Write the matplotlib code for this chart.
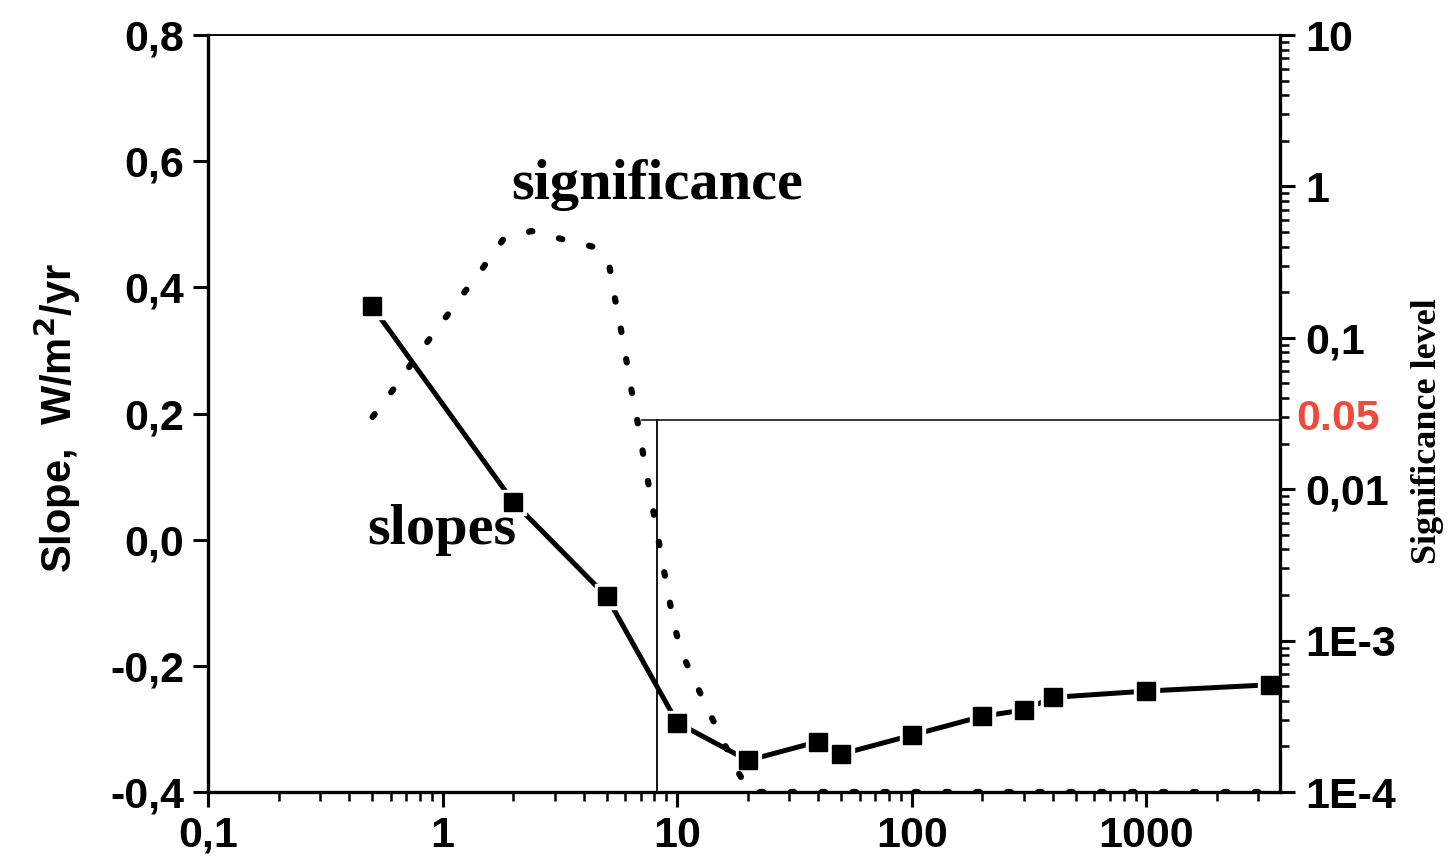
import matplotlib
matplotlib.use("Agg")
import matplotlib.pyplot as plt
from matplotlib.ticker import LogLocator, NullFormatter, FixedLocator

# ---- data ----
slope_x = [0.5, 2, 5, 10, 20, 40, 50, 100, 200, 300, 400, 1000, 3370]
slope_y = [0.37, 0.06, -0.09, -0.29, -0.35, -0.32, -0.34, -0.31, -0.28, -0.27, -0.25, -0.24, -0.23]

sig_x = [0.503, 0.629, 0.772, 0.961, 1.19, 1.48, 1.82, 2.39, 3.24, 4.36, 5.15, 5.41,
         5.73, 6.03, 6.33, 6.70, 7.04, 7.41, 7.81, 8.23, 8.65, 9.14, 9.63, 10.4,
         11.9, 13.6, 15.6, 17.9, 20.4, 100, 1000, 3370]
sig_y = [0.030, 0.0475, 0.075, 0.118, 0.184, 0.288, 0.45, 0.507, 0.448, 0.40, 0.292, 0.187,
         0.118, 0.076, 0.0483, 0.0309, 0.0198, 0.0126, 0.00798, 0.00511, 0.00327, 0.00209,
         0.00133, 0.000845, 0.000536, 0.000343, 0.000221, 0.000141, 0.0001, 0.0001, 0.0001, 0.0001]

left_ticks = [-0.4, -0.2, 0.0, 0.2, 0.4, 0.6, 0.8]
left_labels = ["-0,4", "-0,2", "0,0", "0,2", "0,4", "0,6", "0,8"]
x_ticks = [0.1, 1, 10, 100, 1000]
x_labels = ["0,1", "1", "10", "100", "1000"]
right_ticks = [1e-4, 1e-3, 1e-2, 1e-1, 1, 10]
right_labels = ["1E-4", "1E-3", "0,01", "0,1", "1", "10"]

thresh_level = 0.19      # on slope axis, where the 0.05 line is drawn
thresh_x_vert = 8.18
thresh_x_start = 7.06

# ---- figure ----
fig = plt.figure(figsize=(14.51, 8.57), dpi=100)
ax = fig.add_axes([208/1451, 1-792/857, (1280-208)/1451, (792-35)/857])
ax2 = ax.twinx()

sans = "Liberation Sans"
serif = "Liberation Serif"

ax.set_xscale("log")
ax.set_xlim(0.1, 3710)
ax.set_ylim(-0.4, 0.8)
ax2.set_yscale("log")
ax2.set_ylim(1e-4, 10)

# threshold lines
ax.plot([thresh_x_start, 3710], [thresh_level, thresh_level], color="black", lw=1.1, zorder=2)
ax.plot([thresh_x_vert, thresh_x_vert], [-0.4, thresh_level], color="black", lw=1.3, zorder=2)

# slopes
ax.plot(slope_x, slope_y, color="black", lw=3.6, zorder=3, solid_capstyle="butt")
ax.plot(slope_x, slope_y, ls="none", marker="s", ms=18, mfc="white", mec="white", zorder=4, clip_on=False)
ax.plot(slope_x, slope_y, ls="none", marker="s", ms=12.5, mfc="black", mec="black", zorder=5, clip_on=False)

# significance
ax2.plot(sig_x, sig_y, color="black", lw=4.5, ls=(0, (0.55, 4.4)), dash_capstyle="round", zorder=3)

# spines
for s in ["left", "bottom"]:
    ax.spines[s].set_linewidth(2.4)
ax.spines["top"].set_linewidth(1.1)
ax.spines["right"].set_visible(False)
ax2.spines["right"].set_linewidth(2.4)
ax2.spines["top"].set_linewidth(1.1)
ax2.spines["left"].set_visible(False)
ax2.spines["bottom"].set_visible(False)

# ticks
ax.yaxis.set_major_locator(FixedLocator(left_ticks))
ax.set_yticklabels(left_labels)
ax.xaxis.set_major_locator(FixedLocator(x_ticks))
ax.set_xticklabels(x_labels)
ax.xaxis.set_minor_locator(LogLocator(base=10, subs=range(2, 10), numticks=20))
ax.xaxis.set_minor_formatter(NullFormatter())
ax.tick_params(axis="both", which="major", direction="out", length=11, width=2.2,
               labelsize=31, pad=6)
ax.tick_params(axis="x", which="minor", direction="out", length=6.5, width=1.8)
ax.tick_params(axis="y", which="both", right=False)
ax.tick_params(axis="x", which="both", top=False)

ax2.yaxis.set_major_locator(FixedLocator(right_ticks))
ax2.set_yticklabels(right_labels)
ax2.yaxis.set_minor_locator(LogLocator(base=10, subs=range(2, 10), numticks=20))
ax2.yaxis.set_minor_formatter(NullFormatter())
ax2.tick_params(axis="y", which="major", direction="out", length=11, width=2.2,
                labelsize=31, pad=7)
ax2.tick_params(axis="y", which="minor", direction="out", length=6.5, width=1.8)

for lab in ax.get_xticklabels() + ax.get_yticklabels() + ax2.get_yticklabels():
    lab.set_fontfamily(sans)
    lab.set_fontweight("bold")

# axis titles
fig.text(57/1451, 1-418/857, "Slope,  W/m$^\\mathbf{2}$/yr", rotation=90, ha="center", va="center",
         fontfamily=sans, fontweight="bold", fontsize=30)
fig.text(1428/1451, 1-431/857, "Significance level", rotation=90, ha="center", va="center",
         fontfamily=serif, fontweight="bold", fontsize=26)

# annotations
fig.text(657/1451, 1-185/857, "significance", ha="center", va="center",
         fontfamily=serif, fontweight="bold", fontsize=42)
fig.text(442/1451, 1-530/857, "slopes", ha="center", va="center",
         fontfamily=serif, fontweight="bold", fontsize=42)
fig.text(1296/1451, 1-419/857, "0.05", ha="left", va="center", color="#f04a3a",
         fontfamily=sans, fontweight="bold", fontsize=31)

fig.savefig("out.png", dpi=100)
